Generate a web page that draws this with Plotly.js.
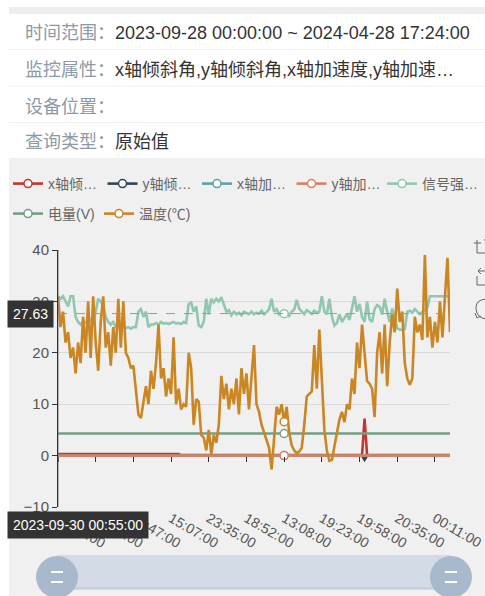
<!DOCTYPE html>
<html><head><meta charset="utf-8">
<script src="https://cdn.plot.ly/plotly-3.0.1.min.js"></script>
<style>html,body{margin:0;padding:0;background:#fff;}#chart{width:485px;height:596px;}</style>
</head><body><div id="chart"></div>
<script>
// ---------- data ----------
const seriesNames = ["x轴倾斜角","y轴倾斜角","x轴加速度","y轴加速度","信号强度","电量(V)","温度(℃)"];
const legendLabels = ["x轴倾…","y轴倾…","x轴加…","y轴加…","信号强…","电量(V)","温度(℃)"];
const tickIndex = [0,15,30,45,60,75,90,105,120,135,150];
const tickLabels = ["00:55:00","06:31:00","09:47:00","15:07:00","23:35:00","18:52:00","13:08:00","19:23:00","19:58:00","20:35:00","00:11:00"];
const pointCount = 157;
const temperature = [31,25,28,22,24,19,21,16,22,18,
 27,20,30,19,31,22,16.5,26,31,21,
 24,17.5,25,20,30.5,21,30,20,19,17,
 17.5,12,8,7.3,10,13.5,10,16.5,13,18,
 25.5,15,17,11.5,15,12,23,10,13,9,
 10,9.5,20,17,6,11,10.5,4,3.5,1,
 5,0.3,4,2.5,6,15.5,11,14,9,13,
 10,15,8,17,12,16,9,15,21.5,10,
 8.5,6,4.5,3,1.5,-2.7,3,9.5,8,10,
 6.6,9.5,4.5,2,1,0.5,0.8,1.5,6,11.5,
 12,12.5,21.5,13,24.5,14,5,1,-1,-0.8,
 2,4.5,7,8.5,6.5,10,9,15,12,22,
 17,25.5,20,14.5,14,13,7.5,20,24,16,
 25.5,13.5,22,27.5,24,32.5,26,28,18,15,
 13.8,15,27,24,25.5,22.5,39,23,27,21,
 26,22,30,23,31,38.5,24];
const signal = [31,30.5,31,30,29,31,31,27,26,25.5,
 26,26,25.5,26.5,26,28,30.5,30,29,27,
 26,25.5,26,25,25,25.5,25,24.8,25,24.7,
 25,25,28,28.5,27,28,25,25.5,25.5,25.8,
 25.5,26,25.7,25.8,25.6,25.8,26,25.7,25.8,25.6,
 26,25.8,29.5,29.8,28,29,25.3,25,26,30.5,
 27.5,30.5,29.8,30.5,30,30.8,29.5,28,28.3,27.3,
 28,27.5,27.8,27.3,28,27.7,27.5,28,27.5,27.8,
 27.6,28.2,27.5,27.9,28.5,30.5,28,28.5,27.5,28,
 27.6,28,27.2,28,28.4,30.3,28.6,28,27.5,28.3,
 28,27.6,28.2,27.8,28,31,28,27.5,30.5,27,
 25.3,25.8,27.5,26,26.8,27.5,26.4,29,31,28,
 29.5,27,26,30,26.5,26,28.5,29.3,29,27.5,
 30.5,28,26,28.6,27,24.8,24.5,24.5,24.6,28,
 28.2,27.8,28.5,28,27.5,28,28.3,28.8,31,31,
 31,31,31,31,31,31,31];
const xTiltIdx = [0,48,49,121,122,123,156];
const xTilt    = [0.3,0.3,0.1,0.1,7.2,0.1,0.1];
const yTiltIdx = [0,121,122,123,156];
const yTilt    = [0,0,-0.8,0,0];
const xAccIdx  = [0,90,156];
const xAcc     = [0,0,0];
const yAccIdx  = [0,90,156];
const yAcc     = [0,0,0];
const voltIdx  = [0,90,156];
const volt     = [4.3,4.3,4.3];
const hoverIndex = 90;
const pointerTime = "2023-09-30 00:55:00";
const pointerValue = 27.63;
const headerLabels = ["时间范围：","监控属性：","设备位置：","查询类型："];
const headerValues = ["2023-09-28 00:00:00 ~ 2024-04-28 17:24:00","x轴倾斜角,y轴倾斜角,x轴加速度,y轴加速…","","原始值"];
const colors = ["#c23531","#2f4554","#61a0a8","#d48265","#91c7ae","#749f83","#ca8622"];

// ---------- layout helpers ----------
const W = 485, H = 596, L = 58, R = 450, T = 250, B = 507;
const px = x => (x - L) / (R - L);
const py = y => (B - y) / (B - T);
const FONT = 'Liberation Sans, "Noto Sans CJK SC", sans-serif';

const allIdx = Array.from({length: pointCount}, (_, i) => i);
const seriesX = [xTiltIdx, yTiltIdx, xAccIdx, yAccIdx, allIdx, voltIdx, allIdx];
const seriesY = [xTilt, yTilt, xAcc, yAcc, signal, volt, temperature];
const legendOf = ['legend','legend','legend','legend','legend3','legend2','legend2'];

const traces = seriesY.map((ys, i) => {
  const xs = seriesX[i];
  const k = xs.indexOf(hoverIndex);
  return {
    type: 'scatter', mode: 'lines+markers', name: legendLabels[i],
    x: xs, y: ys, xaxis: i === 6 ? 'x2' : 'x', yaxis: 'y',
    legend: legendOf[i],
    line: {color: colors[i], width: 2.6},
    marker: {symbol: 'circle', size: 8, color: '#ffffff', line: {color: colors[i], width: 1.5}},
    selectedpoints: k >= 0 ? [k] : [],
    selected: {marker: {opacity: 1}},
    unselected: {marker: {opacity: 0}},
    hoverinfo: 'skip'
  };
});

const P = (x, y) => px(x).toFixed(5) + ',' + py(y).toFixed(5);
const iconLine = {color:'#666', width:1};
const shapes = [
  {type:'rect', xref:'paper', yref:'paper', x0:px(9), x1:px(485), y0:py(596), y1:py(158), fillcolor:'#f0f0f0', line:{width:0}, layer:'below'},
  {type:'rect', xref:'paper', yref:'paper', x0:px(9), x1:px(485), y0:py(14), y1:py(7), fillcolor:'#eeeeee', line:{width:0}, layer:'below'},
  ...[49.5, 86, 122.5].map(y => ({type:'line', xref:'paper', yref:'paper', x0:px(9), x1:px(485), y0:py(y), y1:py(y), line:{color:'#efefef', width:1}, layer:'below'})),
  // axis pointers
  {type:'line', xref:'x', yref:'y', x0:0, x1:pointCount-1, y0:pointerValue, y1:pointerValue, line:{color:'#999', width:1, dash:'dash'}},
  {type:'line', xref:'x', yref:'paper', x0:0, x1:0, y0:0, y1:1, line:{color:'#777', width:1}},
  // toolbox icons (partly cut at right edge)
  {type:'path', xref:'paper', yref:'paper', path:'M'+P(477,240)+'L'+P(477,253)+'L'+P(486,253)+'M'+P(474,243)+'L'+P(481,243)+'M'+P(484,240)+'L'+P(486,240), line:iconLine},
  {type:'path', xref:'paper', yref:'paper', path:'M'+P(478,271)+'L'+P(486,271)+'M'+P(481,268)+'L'+P(478,271)+'L'+P(481,274)+'M'+P(477,276)+'L'+P(477,285)+'L'+P(486,285), line:iconLine},
  {type:'path', xref:'paper', yref:'paper', path:'M'+P(486,299)+'Q'+P(475,300)+' '+P(476,309)+'Q'+P(477,318)+' '+P(486,319)+'M'+P(475,313)+'L'+P(477,318)+'L'+P(481,316), line:iconLine},
  // data zoom slider
  {type:'rect', xref:'paper', yref:'paper', x0:px(57), x1:px(451), y0:py(590), y1:py(555), fillcolor:'#d3dbe6', line:{width:0}},
  {type:'line', xref:'paper', yref:'paper', x0:px(57), x1:px(451), y0:py(588), y1:py(588), line:{color:'#b8c4d4', width:1}},
  ...[57, 451].map(cx => ({type:'circle', xref:'paper', yref:'paper', x0:px(cx-21), x1:px(cx+21), y0:py(577+21), y1:py(577-21), fillcolor:'#a8b8cd', line:{width:0}})),
  ...[57, 451].flatMap(cx => [572, 582].map(y => ({type:'line', xref:'paper', yref:'paper', x0:px(cx-6), x1:px(cx+6), y0:py(y), y1:py(y), line:{color:'#ffffff', width:2}})))
];

const annotations = [];
headerLabels.forEach((t, i) => {
  const yc = [33, 70, 107, 142][i];
  annotations.push({xref:'paper', yref:'paper', x:px(23), y:py(yc), xanchor:'left', yanchor:'middle', text:t, showarrow:false, font:{family:FONT, size:18, color:'#8d9aa6'}});
  if (headerValues[i]) annotations.push({xref:'paper', yref:'paper', x:px(113), y:py(yc), xanchor:'left', yanchor:'middle', text:headerValues[i], showarrow:false, font:{family:FONT, size:18, color:'#333'}});
});
annotations.push({xref:'paper', yref:'paper', x:px(7), y:py(524.5), xanchor:'left', yanchor:'middle', text:pointerTime, showarrow:false, bgcolor:'#333', borderpad:5, font:{family:FONT, size:14, color:'#fff'}});
annotations.push({xref:'paper', yref:'y', x:px(7), y:pointerValue, xanchor:'left', yanchor:'middle', text:pointerValue.toFixed(2), showarrow:false, bgcolor:'#333', borderpad:5, font:{family:FONT, size:14, color:'#fff'}});

const legendCommon = {orientation:'h', xanchor:'left', yanchor:'top', font:{family:FONT, size:14, color:'#666'}, bgcolor:'rgba(0,0,0,0)', itemwidth:30, itemclick:false, borderwidth:0};
const layout = {
  width: W, height: H,
  margin: {l: L, r: W - R, t: T, b: H - B, pad: 0, autoexpand: false},
  paper_bgcolor: '#ffffff', plot_bgcolor: 'rgba(0,0,0,0)',
  font: {family: FONT},
  showlegend: true,
  legend: Object.assign({}, legendCommon, {x:px(8), y:py(168), entrywidth:49.5}),
  legend3: Object.assign({}, legendCommon, {x:px(382), y:py(168)}),
  legend2: Object.assign({}, legendCommon, {x:px(8), y:py(198), entrywidth:46}),
  // label axis (bottom of grid)
  xaxis: {range:[0, pointCount-1], anchor:'y', side:'bottom', showgrid:false, zeroline:false, showline:false, ticks:'',
          tickmode:'array', tickvals:tickIndex, ticktext:tickLabels, tickangle:30, tickfont:{family:FONT, size:14, color:'#555'}, fixedrange:true, automargin:false},
  // tick axis at the zero line
  xaxis2: {range:[0, pointCount-1], overlaying:'x', anchor:'free', position:10/50, showgrid:false, zeroline:false, showline:false,
          ticks:'outside', ticklen:5, tickcolor:'#333', tickmode:'array', tickvals:tickIndex, showticklabels:false, fixedrange:true},
  yaxis: {range:[-10, 40], dtick:10, showgrid:true, gridcolor:'#dadada', zeroline:false, showline:true, linecolor:'#333', linewidth:1,
          ticks:'outside', ticklen:5, tickcolor:'#333', tickfont:{family:FONT, size:15, color:'#555'}, fixedrange:true, automargin:false},
  shapes: shapes, annotations: annotations
};
Plotly.newPlot('chart', traces, layout, {displayModeBar:false, staticPlot:true});
</script></body></html>
